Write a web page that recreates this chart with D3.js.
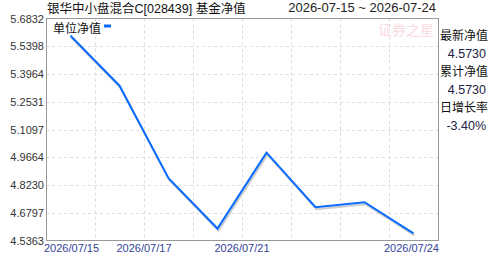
<!DOCTYPE html>
<html>
<head>
<meta charset="utf-8" />
<script src="https://d3js.org/d3.v7.min.js"></script>
<style>
  body { margin: 0; background: #fff; }
  text { font-family: "Liberation Sans", Arial, "Noto Sans CJK SC", sans-serif; }
  .grid line { stroke: #ddd; stroke-dasharray: 3,3; }
</style>
</head>
<body>
<svg id="chart" width="488" height="255"></svg>
<script>
  // data
  const dates = ["2026/07/15", "2026/07/16", "2026/07/17", "2026/07/20",
                 "2026/07/21", "2026/07/22", "2026/07/23", "2026/07/24"];
  const nav = [5.594, 5.336, 4.858, 4.598, 4.990, 4.708, 4.734, 4.573];
  const yTicks = [4.5363, 4.6797, 4.8230, 4.9664, 5.1097, 5.2531, 5.3964, 5.5398, 5.6832];
  const xLabels = [[0, "2026/07/15"], [2, "2026/07/17"], [4, "2026/07/21"], [8, "2026/07/24"]];
  const sideInfo = [["最新净值", "4.5730"], ["累计净值", "4.5730"], ["日增长率", "-3.40%"]];

  const svg = d3.select("svg#chart");
  const pLeft = 46, pRight = 438, pTop = 18.5, pBottom = 240.5;

  const x = d3.scaleBand().domain(dates).range([pLeft, pRight]);
  const y = d3.scaleLinear().domain([yTicks[0], yTicks[yTicks.length - 1]]).range([pBottom, pTop]);
  const step = x.step();

  // gridlines
  const grid = svg.append("g").attr("class", "grid");
  grid.selectAll("line.h")
    .data(yTicks.slice(1, -1))
    .join("line")
    .attr("x1", pLeft).attr("x2", pRight)
    .attr("y1", d => Math.round(y(d)) + 0.5).attr("y2", d => Math.round(y(d)) + 0.5);
  grid.selectAll("line.v")
    .data(d3.range(1, dates.length))
    .join("line")
    .attr("x1", i => Math.round(pLeft + i * step) + 0.5).attr("x2", i => Math.round(pLeft + i * step) + 0.5)
    .attr("y1", pTop).attr("y2", pBottom);

  // watermark
  svg.append("text")
    .attr("x", 434).attr("y", 35)
    .attr("text-anchor", "end")
    .attr("font-size", "14px")
    .attr("fill", "#fadbe0")
    .style("font-family", "'Noto Sans CJK SC'")
    .text("证券之星");

  // frame
  svg.append("rect")
    .attr("x", pLeft + 0.5).attr("y", pTop)
    .attr("width", pRight - pLeft).attr("height", pBottom - pTop)
    .attr("fill", "none").attr("stroke", "#999");

  // y labels
  svg.append("g").selectAll("text")
    .data(yTicks)
    .join("text")
    .attr("x", 44).attr("y", d => y(d) + 4)
    .attr("text-anchor", "end")
    .attr("font-size", "11px")
    .attr("fill", "#333")
    .text(d => d.toFixed(4));

  // x labels
  svg.append("g").selectAll("text")
    .data(xLabels)
    .join("text")
    .attr("x", d => d[0] === 0 ? pLeft - 2 : d[0] === dates.length ? pRight + 1 : pLeft + d[0] * step)
    .attr("y", 252)
    .attr("text-anchor", d => d[0] === 0 ? "start" : d[0] === dates.length ? "end" : "middle")
    .attr("font-size", "11px")
    .attr("fill", "#334499")
    .text(d => d[1]);

  // line with shadow
  const line = d3.line().x(d => x(d[0]) + step / 2).y(d => y(d[1]));
  const pts = dates.map((d, i) => [d, nav[i]]);
  svg.append("path")
    .datum(pts)
    .attr("d", line)
    .attr("transform", "translate(1,2)")
    .attr("fill", "none").attr("stroke", "#ccc").attr("stroke-width", 2);
  svg.append("path")
    .datum(pts)
    .attr("d", line)
    .attr("fill", "none").attr("stroke", "#0a6cff").attr("stroke-width", 2);

  // legend
  svg.append("text")
    .attr("x", 53).attr("y", 33)
    .attr("font-size", "12px").attr("fill", "#111")
    .text("单位净值");
  svg.append("rect")
    .attr("x", 104).attr("y", 24.5).attr("width", 7).attr("height", 3)
    .attr("fill", "#0a6cff");

  // title
  svg.append("text")
    .attr("x", 47).attr("y", 13)
    .attr("font-size", "12.5px").attr("fill", "#111")
    .text("银华中小盘混合C[028439] 基金净值");
  svg.append("text")
    .attr("x", 436).attr("y", 12)
    .attr("text-anchor", "end")
    .attr("font-size", "13px").attr("fill", "#222")
    .text("2026-07-15 ~ 2026-07-24");

  // side info
  const side = svg.append("g");
  sideInfo.forEach((d, i) => {
    side.append("text")
      .attr("x", 440).attr("y", 40 + i * 36)
      .attr("font-size", "12px").attr("fill", "#111")
      .text(d[0]);
    side.append("text")
      .attr("x", 486).attr("y", 57.5 + i * 36)
      .attr("text-anchor", "end")
      .attr("font-size", "12.5px").attr("fill", "#222244")
      .text(d[1]);
  });
</script>
</body>
</html>
